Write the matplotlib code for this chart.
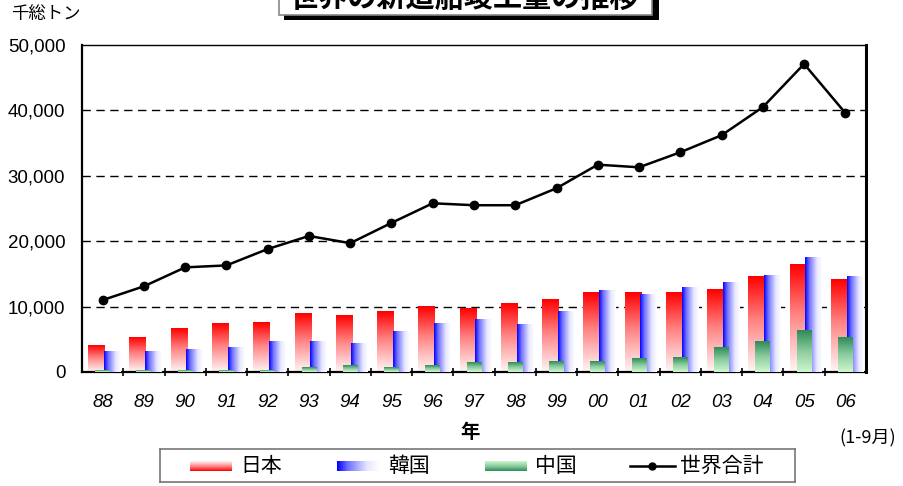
import numpy as np
import matplotlib.pyplot as plt
from matplotlib.colors import LinearSegmentedColormap
from matplotlib.patches import Rectangle
from matplotlib.lines import Line2D

# values (thousand gross tons)
years = ["88", "89", "90", "91", "92", "93", "94", "95", "96", "97",
         "98", "99", "00", "01", "02", "03", "04", "05", "06"]
japan = [4000, 5350, 6700, 7400, 7550, 9000, 8700, 9300, 10050, 9750,
         10400, 11150, 12100, 12100, 12100, 12550, 14530, 16500, 14070]
korea = [3100, 3100, 3400, 3700, 4700, 4700, 4300, 6200, 7400, 8100,
         7300, 9300, 12400, 11800, 12850, 13760, 14830, 17580, 14530]
china = [300, 300, 300, 300, 300, 760, 1070, 760, 1070, 1420,
         1400, 1680, 1680, 1990, 2290, 3670, 4740, 6420, 5350]
world = [11000, 13100, 16000, 16300, 18800, 20800, 19700, 22800, 25800, 25500,
         25500, 28100, 31700, 31300, 33600, 36200, 40500, 47100, 39600]
series_names = ["日本", "韓国", "中国", "世界合計"]

JP = ["Noto Sans CJK JP", "DejaVu Sans"]
NUM = ["Liberation Sans", "DejaVu Sans"]

cm_red = LinearSegmentedColormap.from_list(
    "r", [(0, "#FFF6F6"), (0.55, "#FF8080"), (1, "#FF0000")])
cm_blue = LinearSegmentedColormap.from_list(
    "b", [(0, "#0000FF"), (0.25, "#7070FF"), (0.7, "#E6E6FF"), (1, "#FFFFFF")])
cm_green = LinearSegmentedColormap.from_list("g", ["#CCF8CC", "#8CCCA0", "#2E8B57"])

VERT = np.linspace(0, 1, 128).reshape(-1, 1)
HORZ = np.linspace(0, 1, 128).reshape(1, -1)

W, H = 904, 486
fig = plt.figure(figsize=(W / 100, H / 100), dpi=100)
fig.patch.set_facecolor("white")


def px_axes(x0, y0, x1, y1, **kw):
    return fig.add_axes([x0 / W, 1 - y1 / H, (x1 - x0) / W, (y1 - y0) / H], **kw)


ax = px_axes(82, 45, 866, 372)
x = np.arange(len(years))


def gradient_bars(xpos, heights, width, cmap, grad, z):
    bars = ax.bar(xpos, heights, width=width, facecolor="none",
                  edgecolor="none", zorder=z)
    for b in bars:
        ax.imshow(grad, cmap=cmap, origin="lower", aspect="auto",
                  interpolation="bilinear", zorder=z,
                  extent=[b.get_x(), b.get_x() + b.get_width(), 0, b.get_height()])


gradient_bars(x - 0.15, japan, 0.40, cm_red, VERT, 2)
gradient_bars(x + 0.23, korea, 0.40, cm_blue, HORZ, 3)
gradient_bars(x, china, 0.36, cm_green, VERT, 4)

ax.plot(x, world, color="black", lw=1.8, marker="o", ms=6, zorder=6)

ax.set_xlim(-0.5, len(years) - 0.5)
ax.set_ylim(0, 50000)
ax.set_yticks(range(0, 50001, 10000))
ax.set_yticklabels([f"{v:,}" for v in range(0, 50001, 10000)],
                   fontsize=13.5, family=NUM)
ax.tick_params(axis="y", length=0, pad=12)
for v in range(10000, 50000, 10000):
    ax.axhline(v, color="black", lw=1, ls=(0, (6, 4)), zorder=1)

ax.set_xticks(x)
ax.set_xticklabels(years, fontsize=13.5, family=NUM, style="italic")
ax.tick_params(axis="x", length=0, pad=16)
ax.set_xticks(np.arange(0.5, len(years) - 1, 1), minor=True)
ax.tick_params(axis="x", which="minor", length=6, width=1.2, direction="inout")

for side, lw in [("left", 1.6), ("bottom", 1.6), ("right", 2.2), ("top", 1.0)]:
    ax.spines[side].set_linewidth(lw)
    ax.spines[side].set_color("black")

fig.text(470 / W, 1 - 432 / H, "年", family=JP, fontsize=14, fontweight="bold",
         ha="center", va="center")
fig.text(868 / W, 1 - 438 / H, "(1-9月)", family=JP, fontsize=13,
         ha="center", va="center")
fig.text(46 / W, 1 - 14 / H, "千総トン", family=JP, fontsize=12.5,
         ha="center", va="center")

# title box, cut by the top edge as in the original
fig.patches.append(Rectangle((284 / W, 1 - 20 / H), 375 / W, 40 / H,
                             transform=fig.transFigure, facecolor="black",
                             edgecolor="none", zorder=1))
fig.patches.append(Rectangle((279 / W, 1 - 15 / H), 373 / W, 40 / H,
                             transform=fig.transFigure, facecolor="white",
                             edgecolor="#888888", lw=1.2, zorder=2))
fig.text(465 / W, 1 + 2 / H, "世界の新造船竣工量の推移", family=JP, fontsize=21,
         fontweight="bold", ha="center", va="center", zorder=3)

# legend drawn by hand
lg = px_axes(160, 449, 795, 482)
lg.set_xticks([])
lg.set_yticks([])
for s in lg.spines.values():
    s.set_color("#777777")
    s.set_linewidth(1.2)
yc = 466
lg.imshow(VERT, cmap=cm_red, origin="upper", aspect="auto",
          extent=[190, 232, yc + 5, yc - 5])
lg.imshow(HORZ, cmap=cm_blue, origin="lower", aspect="auto",
          extent=[337, 380, yc + 5, yc - 5])
lg.imshow(VERT, cmap=cm_green, origin="upper", aspect="auto",
          extent=[485, 527, yc + 5, yc - 5])
lg.add_line(Line2D([630, 675], [yc, yc], color="black", lw=1.8))
lg.plot([652], [yc], "o", color="black", ms=5)
for tx, name in zip([240, 388, 535, 680], series_names):
    lg.text(tx, yc, name, family=JP, fontsize=15, va="center", ha="left")
lg.set_xlim(160, 795)
lg.set_ylim(482, 449)

fig.savefig("out.png", dpi=100, facecolor="white")
